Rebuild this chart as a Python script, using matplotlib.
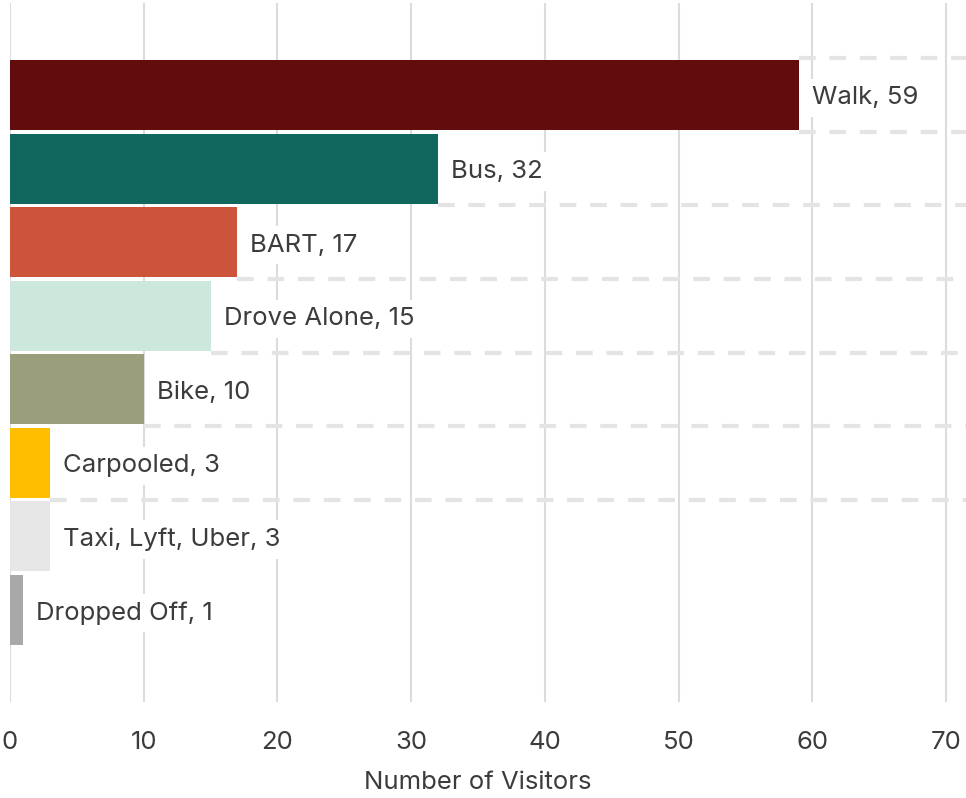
import matplotlib
matplotlib.use("Agg")
import matplotlib.pyplot as plt

categories = ["Walk", "Bus", "BART", "Drove Alone", "Bike", "Carpooled", "Taxi, Lyft, Uber", "Dropped Off"]
values = [59, 32, 17, 15, 10, 3, 3, 1]
colors = ["#610d0d", "#10675e", "#cb543a", "#cce8dc", "#9a9e7d", "#ffbf00", "#e6e6e6", "#a9a9a9"]
xticks = [0, 10, 20, 30, 40, 50, 60, 70]
xlabel = "Number of Visitors"

plt.rcParams['font.family'] = ['Inter', 'DejaVu Sans']
TEXT = "#3c3c3c"
FS = 18.5

fig = plt.figure(figsize=(9.66, 7.98), dpi=100)
ax = fig.add_axes([10/966, (798-702)/798, 956/966, 699/798])

XMAX = 71.5
ax.set_xlim(0, XMAX)
ax.set_ylim(len(categories) - 1 + 1.25, -1.25)

# vertical gridlines
for t in xticks:
    ax.axvline(t, color="#dcdcdc", lw=1.5, zorder=0)

# dashed horizontal separators starting at end of the bar above
for k in range(len(categories) - 1):
    y = k - 0.5
    start = values[k - 1] if k > 0 else values[0]
    ax.hlines(y, start, XMAX, colors="#e4e4e4", lw=3, linestyles=(0, (4, 3.3)), zorder=1)

ys = list(range(len(categories)))
ax.barh(ys, values, height=0.95, color=colors, zorder=2)

for y, v, c in zip(ys, values, categories):
    ax.annotate(f"{c}, {v}", xy=(v, y), xytext=(13, -3), textcoords="offset pixels",
                va="center", ha="left", fontsize=FS, color=TEXT, zorder=4,
                bbox=dict(boxstyle="square,pad=0.3", fc="white", ec="none"))

ax.set_xticks(xticks)
ax.set_xticklabels([str(t) for t in xticks], fontsize=FS, color=TEXT)
ax.tick_params(axis="x", length=0, pad=21)
ax.set_yticks([])
for s in ax.spines.values():
    s.set_visible(False)
ax.set_xlabel(xlabel, fontsize=FS, color=TEXT)
ax.xaxis.set_label_coords((478 - 10) / 956, -0.098)

fig.savefig("out.png", dpi=100)
